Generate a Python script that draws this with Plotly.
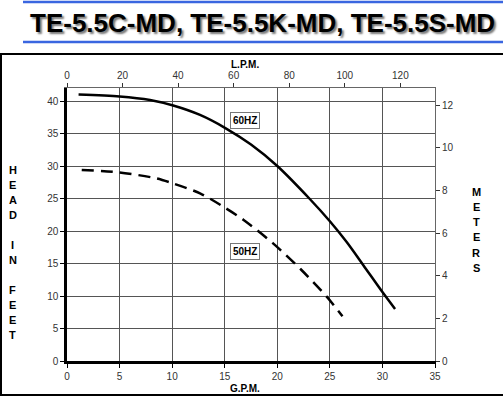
import plotly.graph_objects as go

# Data (G.P.M. vs head in feet)
gpm_60 = [1.1, 5.0, 7.9, 10.1, 12.65, 15.1, 17.5, 20.0, 23.05, 25.0, 26.6, 28.2, 30.0, 31.2]
head_60 = [41.0, 40.7, 40.15, 39.3, 37.85, 35.8, 33.3, 30.0, 25.0, 21.5, 18.3, 14.7, 10.6, 8.0]

gpm_50 = [1.4, 5.0, 8.5, 10.1, 12.65, 15.1, 16.8, 19.6, 22.3, 24.7, 26.2]
head_50 = [29.4, 29.0, 28.1, 27.3, 25.8, 23.5, 21.7, 18.1, 14.0, 9.9, 6.9]

curve_labels = ["60HZ", "50HZ"]
label_gpm = [16.9, 16.9]
label_head = [37.0, 16.9]

title_text = "TE-5.5C-MD, TE-5.5K-MD, TE-5.5S-MD"
left_letters = ["H", "E", "A", "D", "I", "N", "F", "E", "E", "T"]
right_letters = ["M", "E", "T", "E", "R", "S"]

FT_PER_M = 3.2808
L_PER_GAL = 3.785
X_MAX = 35
Y_MAX = 42

W, H = 503, 397
L, R, T, B = 67, 68, 88, 36
PW = W - L - R
PH = H - T - B

def px(x):
    return (x - L) / PW

def py(y):
    return (H - B - y) / PH

FONT = "Liberation Sans, Arial, sans-serif"

fig = go.Figure()
fig.add_trace(go.Scatter(x=gpm_60, y=head_60, mode="lines",
                         line=dict(color="black", width=2.5, shape="spline", smoothing=0.8),
                         showlegend=False, hoverinfo="skip"))
fig.add_trace(go.Scatter(x=gpm_50, y=head_50, mode="lines",
                         line=dict(color="black", width=2.5, dash="12px,7px", shape="spline", smoothing=0.8),
                         showlegend=False, hoverinfo="skip"))
# invisible traces for secondary axes
fig.add_trace(go.Scatter(x=[0, X_MAX * L_PER_GAL], y=[0, 0], xaxis="x2", yaxis="y",
                         mode="markers", marker=dict(opacity=0), showlegend=False, hoverinfo="skip"))
fig.add_trace(go.Scatter(x=[0, 0], y=[0, Y_MAX / FT_PER_M], xaxis="x", yaxis="y2",
                         mode="markers", marker=dict(opacity=0), showlegend=False, hoverinfo="skip"))

tickfont = dict(family=FONT, size=10, color="#333")

fig.update_layout(
    width=W, height=H,
    margin=dict(l=L, r=R, t=T, b=B),
    paper_bgcolor="white", plot_bgcolor="white",
    xaxis=dict(range=[0, X_MAX], dtick=5, tick0=0, showgrid=True, gridcolor="#555", gridwidth=1,
               showline=True, linecolor="black", linewidth=2.5, ticks="outside", ticklen=4,
               tickcolor="black", tickfont=tickfont, zeroline=False),
    yaxis=dict(range=[0, Y_MAX], dtick=5, tick0=0, showgrid=True, gridcolor="#555", gridwidth=1,
               showline=True, linecolor="black", linewidth=2.5, ticks="outside", ticklen=4,
               tickcolor="black", tickfont=tickfont, zeroline=False),
    xaxis2=dict(range=[0, X_MAX * L_PER_GAL], overlaying="x", side="top", dtick=20, tick0=0,
                showgrid=False, showline=True, linecolor="#666", linewidth=1, ticks="outside",
                ticklen=4, tickcolor="#333", tickfont=tickfont, zeroline=False),
    yaxis2=dict(range=[0, Y_MAX / FT_PER_M], overlaying="y", side="right", dtick=2, tick0=0,
                showgrid=False, showline=True, linecolor="#666", linewidth=1, ticks="outside",
                ticklen=4, tickcolor="#333", tickfont=tickfont, zeroline=False),
)

ann = []
# curve labels
for t, gx, gy in zip(curve_labels, label_gpm, label_head):
    ann.append(dict(x=gx, y=gy, xref="x", yref="y", text="<b>" + t + "</b>", showarrow=False,
                    font=dict(family=FONT, size=10, color="black"), bgcolor="white",
                    bordercolor="#777", borderwidth=1, borderpad=2))
# title
ann.append(dict(x=px(262), y=py(23), xref="paper", yref="paper", text="<b>" + title_text + "</b>",
                showarrow=False, xanchor="center", yanchor="middle",
                font=dict(family=FONT, size=26, color="black", shadow="2px 2px 2px #777")))
# axis titles
ann.append(dict(x=px(245), y=py(64), xref="paper", yref="paper", text="<b>L.P.M.</b>", showarrow=False,
                xanchor="center", yanchor="middle", font=dict(family=FONT, size=10, color="black")))
ann.append(dict(x=px(245), y=py(388), xref="paper", yref="paper", text="<b>G.P.M.</b>", showarrow=False,
                xanchor="center", yanchor="middle", font=dict(family=FONT, size=10, color="black")))
left_y = [170, 185, 200, 215, 245, 260, 290, 305, 320, 335]
for ch, yy in zip(left_letters, left_y):
    ann.append(dict(x=px(13), y=py(yy), xref="paper", yref="paper", text="<b>" + ch + "</b>",
                    showarrow=False, xanchor="center", yanchor="middle",
                    font=dict(family=FONT, size=11, color="black")))
right_y = [192, 207, 222, 237, 253, 268]
for ch, yy in zip(right_letters, right_y):
    ann.append(dict(x=px(476), y=py(yy), xref="paper", yref="paper", text="<b>" + ch + "</b>",
                    showarrow=False, xanchor="center", yanchor="middle",
                    font=dict(family=FONT, size=11, color="black")))
fig.update_layout(annotations=ann)

shapes = [
    dict(type="line", xref="paper", yref="paper", x0=px(23), x1=px(506), y0=py(2), y1=py(2),
         line=dict(color="#3a66e0", width=2.5)),
    dict(type="line", xref="paper", yref="paper", x0=px(23), x1=px(506), y0=py(42), y1=py(42),
         line=dict(color="#3a66e0", width=2.5)),
    dict(type="rect", xref="paper", yref="paper", x0=px(1), x1=px(508), y0=py(54), y1=py(395),
         line=dict(color="black", width=2), layer="below"),
]
fig.update_layout(shapes=shapes)

fig.write_html("out.html", config={"displayModeBar": False},
               post_script="document.body.style.margin='0';document.body.style.overflow='hidden';")
